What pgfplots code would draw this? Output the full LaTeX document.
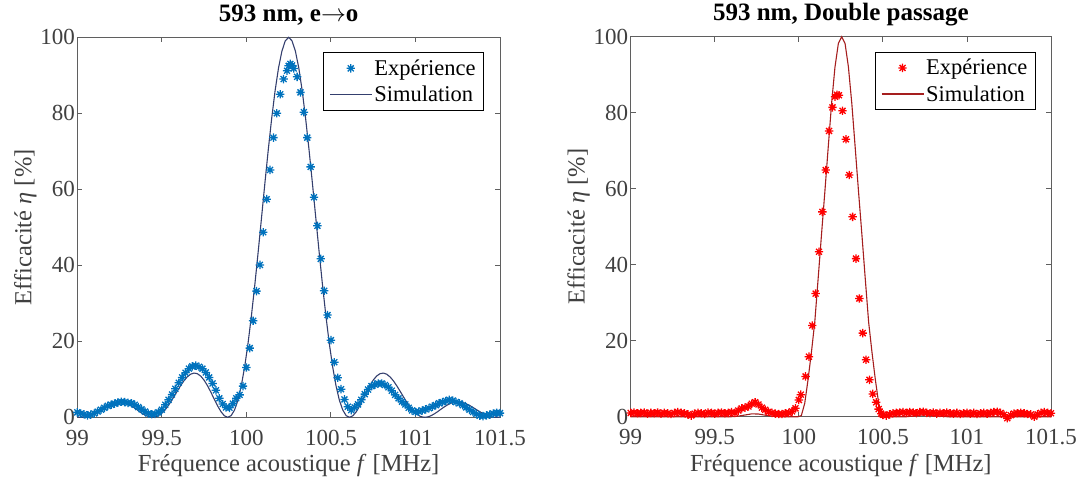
\documentclass[border=0pt]{standalone}
\usepackage{fontspec}
\setmainfont{Liberation Serif}
\usepackage{pgfplots}
\usepackage{pgfplotstable}
\pgfplotsset{compat=1.18}

\definecolor{mblue}{RGB}{0,114,189}
\definecolor{simblue}{RGB}{52,63,110}
\definecolor{simred}{RGB}{165,30,30}
\definecolor{axgray}{RGB}{95,95,95}
\definecolor{txtgray}{RGB}{64,64,64}

\pgfdeclareplotmark{mstar}{%
  \pgfpathmoveto{\pgfqpoint{-\pgfplotmarksize}{0pt}}\pgfpathlineto{\pgfqpoint{\pgfplotmarksize}{0pt}}%
  \pgfpathmoveto{\pgfqpoint{0pt}{-\pgfplotmarksize}}\pgfpathlineto{\pgfqpoint{0pt}{\pgfplotmarksize}}%
  \pgfpathmoveto{\pgfqpoint{-0.707\pgfplotmarksize}{-0.707\pgfplotmarksize}}\pgfpathlineto{\pgfqpoint{0.707\pgfplotmarksize}{0.707\pgfplotmarksize}}%
  \pgfpathmoveto{\pgfqpoint{-0.707\pgfplotmarksize}{0.707\pgfplotmarksize}}\pgfpathlineto{\pgfqpoint{0.707\pgfplotmarksize}{-0.707\pgfplotmarksize}}%
  \pgfusepathqstroke}

\pgfplotstableread{
x y
99.00 1.3
99.02 1.0
99.04 0.8
99.06 0.5
99.08 0.7
99.10 1.0
99.12 1.5
99.14 2.0
99.16 2.5
99.18 3.0
99.20 3.3
99.22 3.6
99.24 3.9
99.26 4.1
99.28 4.0
99.30 3.8
99.32 3.7
99.34 3.3
99.36 2.7
99.38 2.1
99.40 1.5
99.42 1.0
99.44 0.8
99.46 0.9
99.48 1.3
99.50 2.0
99.52 3.3
99.54 4.6
99.56 6.0
99.58 7.5
99.60 9.1
99.62 10.5
99.64 11.7
99.66 12.8
99.68 13.4
99.70 13.6
99.72 13.3
99.74 12.8
99.76 11.8
99.78 10.5
99.80 8.9
99.82 7.1
99.84 5.0
99.86 3.5
99.88 2.6
99.90 2.5
99.92 3.6
99.94 5.0
99.96 5.9
99.98 8.2
100.00 13.1
100.02 18.2
100.04 25.4
100.06 33.2
100.08 40.1
100.10 48.7
100.12 57.4
100.14 65.1
100.16 73.6
100.18 80.0
100.20 85.0
100.22 89.0
100.24 91.2
100.25 92.5
100.26 93.0
100.27 92.6
100.28 91.8
100.30 89.6
100.32 85.5
100.34 80.3
100.36 73.6
100.38 65.9
100.40 57.9
100.42 50.4
100.44 41.7
100.46 33.3
100.48 26.9
100.50 20.3
100.52 14.5
100.54 10.4
100.56 7.4
100.58 4.7
100.60 2.8
100.62 1.9
100.64 2.6
100.66 3.4
100.68 4.6
100.70 6.1
100.72 7.3
100.74 8.2
100.76 8.6
100.78 8.9
100.80 8.9
100.82 8.5
100.84 7.9
100.86 7.0
100.88 5.9
100.90 5.0
100.92 4.1
100.94 3.4
100.96 2.5
100.98 1.8
101.00 1.4
101.02 1.5
101.04 1.8
101.06 2.1
101.08 2.4
101.10 2.8
101.12 3.2
101.14 3.7
101.16 4.0
101.18 4.3
101.20 4.6
101.22 4.4
101.24 4.0
101.26 3.7
101.28 3.2
101.30 2.6
101.32 2.0
101.34 1.4
101.36 0.9
101.38 0.4
101.40 0.3
101.42 0.5
101.44 0.7
101.46 1.0
101.48 1.2
101.50 1.1
}\expA

\pgfplotstableread{
x y
99.00 0.07
99.01 0.02
99.03 0.01
99.05 0.14
99.07 0.39
99.09 0.76
99.11 1.22
99.13 1.76
99.15 2.32
99.17 2.87
99.19 3.35
99.21 3.74
99.23 3.98
99.25 4.07
99.27 3.97
99.29 3.70
99.31 3.28
99.33 2.72
99.35 2.10
99.37 1.45
99.39 0.86
99.41 0.38
99.43 0.08
99.45 0.01
99.47 0.21
99.49 0.72
99.51 1.52
99.53 2.58
99.55 3.87
99.57 5.31
99.59 6.80
99.61 8.26
99.63 9.57
99.65 10.62
99.67 11.34
99.69 11.64
99.71 11.48
99.73 10.84
99.75 9.77
99.77 8.32
99.79 6.61
99.81 4.77
99.83 2.99
99.85 1.47
99.87 0.40
99.89 0.00
99.91 0.45
99.93 1.92
99.95 4.49
99.97 8.32
99.99 13.35
100.01 19.54
100.03 26.80
100.05 34.90
100.07 43.63
100.09 52.72
100.11 61.83
100.13 70.64
100.15 78.80
100.17 85.99
100.19 91.92
100.21 96.34
100.23 99.07
100.25 100.00
100.27 99.07
100.29 96.34
100.31 91.92
100.33 85.99
100.35 78.80
100.37 70.64
100.39 61.83
100.41 52.72
100.43 43.63
100.45 34.90
100.47 26.80
100.49 19.54
100.51 13.35
100.53 8.32
100.55 4.49
100.57 1.92
100.59 0.45
100.61 0.00
100.63 0.40
100.65 1.47
100.67 2.99
100.69 4.77
100.71 6.61
100.73 8.32
100.75 9.77
100.77 10.84
100.79 11.48
100.81 11.64
100.83 11.34
100.85 10.62
100.87 9.57
100.89 8.26
100.91 6.80
100.93 5.31
100.95 3.87
100.97 2.58
100.99 1.52
101.01 0.72
101.03 0.21
101.05 0.01
101.07 0.08
101.09 0.38
101.11 0.86
101.13 1.45
101.15 2.10
101.17 2.72
101.19 3.28
101.21 3.70
101.23 3.97
101.25 4.07
101.27 3.98
101.29 3.74
101.31 3.35
101.33 2.87
101.35 2.32
101.37 1.76
101.39 1.22
101.41 0.76
101.43 0.39
101.45 0.14
101.47 0.01
101.49 0.02
101.50 0.07
}\simA

\pgfplotstableread{
x y
99.00 1.0
99.02 1.1
99.04 0.9
99.06 1.0
99.08 1.1
99.10 0.8
99.12 1.0
99.14 0.9
99.16 1.1
99.18 0.8
99.20 1.0
99.22 0.9
99.24 0.7
99.26 1.0
99.28 1.2
99.30 1.0
99.32 0.9
99.34 0.6
99.36 0.3
99.38 0.8
99.40 1.0
99.42 0.9
99.44 0.7
99.46 1.1
99.48 1.0
99.50 0.8
99.52 1.0
99.54 1.1
99.56 0.9
99.58 1.0
99.60 1.2
99.62 1.0
99.64 1.6
99.66 2.2
99.68 2.4
99.70 2.7
99.72 3.4
99.74 3.8
99.76 3.2
99.78 2.4
99.80 1.8
99.82 1.3
99.84 1.0
99.86 0.8
99.88 0.7
99.90 0.7
99.92 0.9
99.94 1.0
99.96 1.4
99.98 2.2
100.00 4.4
100.012 5.8
100.04 10.6
100.06 15.8
100.08 24.0
100.10 32.4
100.12 43.4
100.14 53.9
100.16 64.9
100.18 75.2
100.20 81.4
100.215 84.2
100.227 84.7
100.239 84.6
100.26 80.5
100.28 73.0
100.30 63.6
100.32 52.6
100.34 41.6
100.36 31.1
100.38 22.0
100.40 15.0
100.42 9.7
100.44 6.0
100.46 3.8
100.475 2.0
100.49 0.8
100.50 0.5
100.52 0.3
100.54 0.6
100.56 0.9
100.58 1.0
100.60 1.1
100.62 1.2
100.64 1.0
100.66 1.2
100.68 1.1
100.70 0.9
100.72 1.2
100.74 1.3
100.76 1.0
100.78 0.9
100.80 1.1
100.82 0.8
100.84 1.0
100.86 0.9
100.88 1.1
100.90 0.9
100.92 0.8
100.94 1.0
100.96 0.7
100.98 0.9
101.00 1.0
101.02 0.8
101.04 1.0
101.06 0.7
101.08 0.9
101.10 1.0
101.12 0.8
101.14 1.0
101.16 1.2
101.18 1.3
101.20 1.0
101.22 0.5
101.24 -0.4
101.26 0.4
101.28 0.8
101.30 0.9
101.32 1.0
101.34 0.9
101.36 0.7
101.38 0.6
101.40 0.0
101.42 0.6
101.44 1.0
101.46 1.2
101.48 1.0
101.50 0.9
}\expB

\pgfplotstableread{
x y
99.00 0
99.60 0
99.64 0.15
99.68 0.45
99.72 0.75
99.76 0.70
99.80 0.40
99.84 0.15
99.88 0
99.995 0
100.015 0.3
100.035 3.5
100.055 9.8
100.075 17.0
100.095 25.0
100.115 36.4
100.135 48.0
100.155 59.3
100.175 71.0
100.195 82.5
100.215 92.0
100.235 98.2
100.255 100.0
100.275 98.2
100.295 92.0
100.315 82.5
100.335 71.0
100.355 59.3
100.375 48.0
100.395 36.4
100.415 25.0
100.435 17.0
100.455 9.8
100.475 3.5
100.495 0.3
100.515 0
100.64 0
100.68 0.15
100.72 0.40
100.76 0.50
100.80 0.35
100.84 0.12
100.88 0
101.50 0
}\simB

\pgfplotsset{
  myaxis/.style={
    scale only axis,
    height=380pt,
    xmin=99, xmax=101.5, ymin=0, ymax=100,
    xtick={99,99.5,100,100.5,101,101.5},
    ytick={0,20,40,60,80,100},
    tick align=inside, tick pos=both,
    xticklabel pos=bottom, yticklabel pos=left,
    major tick length=5pt,
    axis line style={axgray, line width=0.9pt},
    every tick/.style={axgray, line width=0.9pt},
    /pgf/number format/assume math mode=true,
    tick label style={font=\fontsize{23}{26}\selectfont, text=txtgray},
    xticklabel style={yshift=-9pt},
    yticklabel style={xshift=1pt},
    label style={font=\fontsize{24.5}{28}\selectfont, text=txtgray},
    xlabel={Fréquence acoustique \textit{f} [MHz]},
    ylabel={Efficacité \textit{η} [\%]},
    every axis title shift=0pt,
    title style={font=\bfseries\fontsize{25}{28}\selectfont, at={(axis description cs:0.5,1.057)}, anchor=center},
    legend cell align=left,
    legend style={font=\fontsize{22.5}{26}\selectfont, draw=black, line width=0.9pt, inner xsep=6pt, inner ysep=5pt, row sep=5pt},
    legend image code/.code={\draw[mark repeat=2,mark phase=2,#1] plot coordinates {(0pt,0pt) (21pt,0pt) (42pt,0pt)};},
    clip=false,
  }
}

\begin{document}
\begin{tikzpicture}[x=1pt,y=1pt]
\path[use as bounding box] (0,0) rectangle (1083,477);
\begin{axis}[myaxis,
  at={(77.3pt,59.7pt)}, anchor=south west,
  width=422.7pt,
  title={593 nm, e$\rightarrow$o},
  xlabel style={at={(axis description cs:0.5,-0.128)}, anchor=center},
  ylabel style={at={(axis description cs:-0.123,0.5)}, anchor=center},
  legend style={at={(rel axis cs:0.962,0.9605)}, anchor=north east},
]
\addplot[only marks, mark=mstar, mark size=4.2pt, mblue, line width=1.3pt] table[x=x,y=y] {\expA};
\addlegendentry{Expérience}
\addplot[no marks, simblue, line width=1.1pt] table[x=x,y=y] {\simA};
\addlegendentry{Simulation}
\end{axis}

\begin{axis}[myaxis,
  at={(630.7pt,60.3pt)}, anchor=south west,
  width=420.3pt,
  title={593 nm, Double passage},
  xlabel style={at={(axis description cs:0.5,-0.128)}, anchor=center},
  ylabel style={at={(axis description cs:-0.124,0.5)}, anchor=center},
  legend style={at={(rel axis cs:0.9636,0.96)}, anchor=north east},
]
\addplot[only marks, mark=mstar, mark size=4.2pt, red, line width=1.3pt] table[x=x,y=y] {\expB};
\addlegendentry{Expérience}
\addplot[no marks, simred, line width=1.1pt] table[x=x,y=y] {\simB};
\addlegendentry{Simulation}
\end{axis}
\end{tikzpicture}
\end{document}
